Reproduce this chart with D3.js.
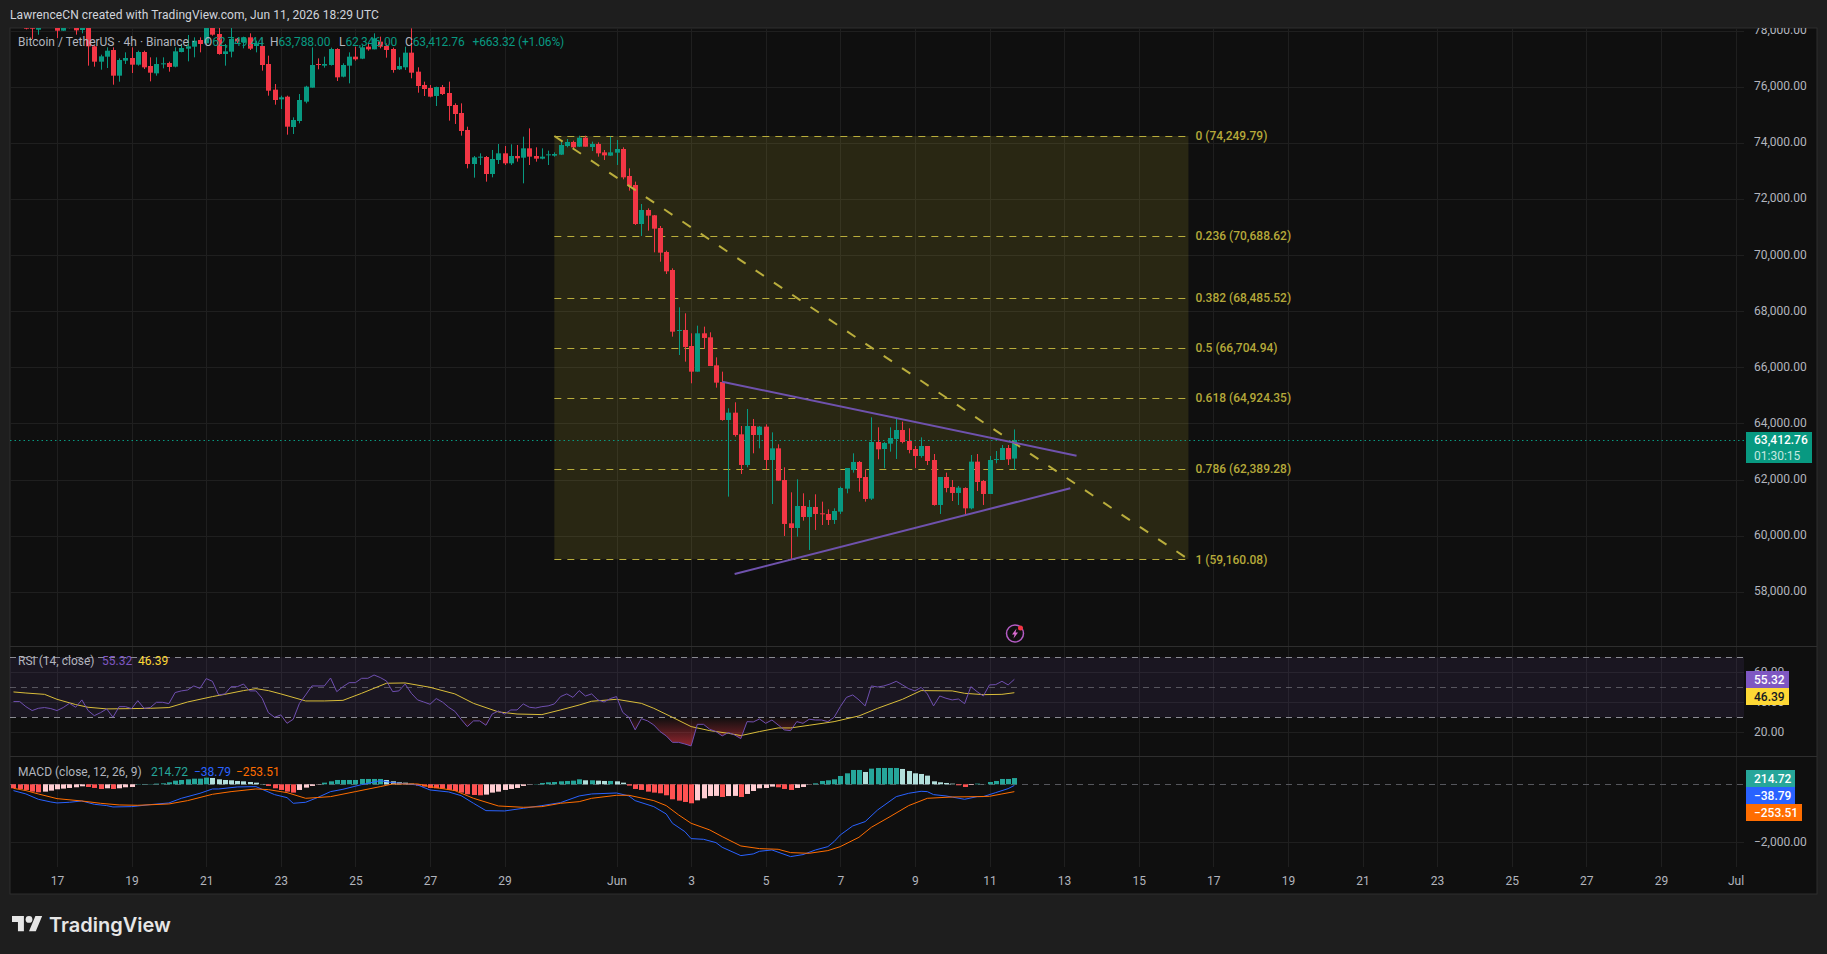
<!DOCTYPE html>
<html>
<head>
<meta charset="utf-8">
<title>BTC/USDT 4h</title>
<script src="https://cdn.jsdelivr.net/npm/d3@7/dist/d3.min.js"></script>
<style>
  html, body { margin: 0; padding: 0; background: #1e1e1e; overflow: hidden; }
  svg { display: block; font-family: Roboto, sans-serif; }
  text { font-size: 12px; }
</style>
</head>
<body>
<svg id="chart" width="1827" height="954"></svg>
<script>
// 4h candles: first bar opens 15 May 2026 20:00 UTC, last bar 11 Jun 16:00 UTC
const barStart = Date.UTC(2026, 4, 15, 20);
const barHours = 4;

const opens = [78400,78500,78350,78120,78040,78200,78400,78300,78004,78250,78150,78028,78250,77446,76899,77077,77315,76400,76935,77030,76792,77244,76745,76483,76816,76852,76721,77244,77363,77434,77672,77553,78200,77886,77173,77256,77719,77589,77767,77458,77458,76816,75901,75556,75651,74570,74784,75474,75973,76816,76757,76781,77351,76365,76757,77078,77007,77434,77339,77613,77458,77351,76626,76698,77221,76543,76068,75961,75676,75997,75783,75355,75070,74464,73251,73477,73501,72895,73394,73632,73275,73537,73477,73810,73537,73442,73560,73549,73584,73893,74036,73869,74190,73857,73964,73667,73549,73655,73786,72824,72503,71112,71612,71422,70970,70114,69473,67298,67334,66763,65848,67215,67072,66074,65480,64125,64386,63614,62521,63911,63590,63887,62699,63115,61986,60441,60275,61059,60667,61024,60798,60774,60560,60857,61677,62343,62628,62093,61321,63341,63091,63281,63448,63768,63376,63091,62842,63198,62699,61095,62093,61737,61523,61701,60976,62640,61950,61487,62711,62699,63127,62749.44];
const highs = [78700,78800,78600,78400,78400,78600,78700,78500,78450,78500,78350,78400,78400,77500,77150,77410,77410,77018,77232,77410,77291,77291,77054,77054,77054,76899,77410,77529,77850,77767,77767,78400,78350,78147,77529,78100,77743,77790,77910,77648,77767,77113,76103,75687,75687,74915,75746,76040,77411,77018,77078,77400,77380,76840,77232,77434,77470,77553,77910,77791,77553,77400,77054,77434,78088,76698,76187,76068,76009,76068,76187,75414,75414,74582,73537,73632,73537,73751,73965,73893,73953,73929,74226,74523,73846,73810,73727,73667,74048,74143,74083,74262,74262,74048,74024,73751,74226,74107,73846,73097,72622,71825,71671,71433,71041,70162,69532,68142,67928,67215,67488,67453,67251,66359,65848,64541,64755,63911,64517,64161,63911,63970,63685,63258,62438,61546,62010,61511,61273,61475,61214,60940,60976,61748,62414,62937,62663,62366,64220,63864,63341,63864,64161,64066,63828,63198,63507,63198,62913,62093,62248,61986,61772,61725,62877,62913,61986,62842,63020,63234,63234,63788];
const lows = [78200,78250,78050,77707,77860,78150,78200,77743,78000,78090,77862,77909,76757,76721,76614,76673,76079,76186,76816,76495,76757,76638,76198,76400,76661,76543,76697,77232,76911,77054,77232,77505,77826,77149,76757,77054,77529,77375,77315,77232,76578,75687,75366,75212,74297,74321,74701,75414,75973,76626,76686,76760,76210,76341,76127,76935,76990,77292,77339,77375,77042,76507,76603,76603,76305,75794,75676,75628,75319,75711,74796,74678,74262,73097,72764,73216,72622,72776,73251,73216,73216,73335,72562,73216,73335,73418,73216,73513,73572,73846,73810,73857,73869,73715,73513,73394,73537,73216,72705,72301,71077,70685,70875,70102,69770,69330,67096,66442,66205,65433,65848,66656,66050,65278,64100,61392,63531,62200,62438,62937,63115,62366,61131,61962,59990,59158,59966,60536,59491,60204,60382,60382,60418,60774,61511,62248,61570,61214,61273,62723,62402,62996,62735,63293,62937,62414,62782,62521,61071,60774,61546,61237,61095,60762,60940,61594,61095,61487,62580,62699,62521,62346];
const closes = [78500,78350,78075,78075,78200,78400,78300,78004,78250,78150,78016,78250,77446,76899,77089,77291,76400,76959,77030,76792,77244,76697,76507,76816,76840,76709,77268,77386,77446,77648,77529,78200,77862,77173,77268,77707,77624,77767,77363,77529,76780,75865,75533,75628,74582,74820,75533,76008,76781,76781,76816,77351,76341,76781,77078,76983,77411,77339,77731,77434,77316,76603,76745,77221,76507,76032,75925,75652,75997,75747,75319,75034,74428,73251,73489,73513,72895,73430,73632,73275,73537,73454,73810,73513,73442,73513,73596,73608,73929,74036,73846,74190,73869,73964,73632,73560,73667,73786,72776,72467,71112,71612,71410,70946,70091,69425,67274,67334,66728,65848,67215,67049,66050,65456,64125,64386,63590,62521,63911,63590,63887,62699,63115,61962,60418,60275,61059,60667,61024,60774,60774,60560,60881,61701,62414,62628,62057,61309,63341,63079,63305,63483,63768,63341,63056,62842,63198,62663,61095,62093,61701,61523,61713,60976,62640,61915,61487,62699,62735,63127,62723,63412.76];

// RSI(14) per bar
const rsi = [40.5,40.5,37.1,34.5,36.0,36.5,35.8,34.5,36.5,39.3,36.7,41.6,34.5,31.1,33.1,35.6,30.0,37.1,37.1,35.8,41.1,36.0,36.5,40.0,40.0,39.1,46.5,47.6,48.2,50.9,49.3,55.8,54.0,44.9,45.6,50.4,50.4,52.2,47.6,47.6,42.7,33.1,30.0,31.6,26.0,28.7,39.3,44.9,50.9,50.9,50.9,56.2,47.1,50.4,53.1,53.1,56.0,56.0,58.2,56.5,54.2,47.1,47.6,52.2,46.0,41.6,40.2,38.7,42.5,40.2,36.7,34.0,28.7,23.8,27.6,27.6,24.7,32.2,34.2,32.2,34.9,34.9,38.9,36.7,36.2,37.1,37.6,38.9,43.8,45.6,43.3,47.8,44.2,45.6,41.6,40.2,42.5,43.8,33.3,30.0,21.6,29.1,27.6,24.9,20.5,17.6,13.3,13.3,12.2,10.9,25.3,25.3,22.0,20.5,17.6,19.8,18.2,15.8,27.1,26.9,28.9,26.0,28.2,24.9,21.6,21.1,27.1,26.0,28.7,28.2,28.2,27.1,30.0,37.1,43.3,44.9,41.6,37.6,50.9,50.2,50.9,52.2,54.0,51.6,49.1,47.6,50.0,45.6,37.6,44.2,42.7,41.6,42.2,39.1,50.4,47.1,44.2,51.6,51.8,54.0,51.6,55.32];

// RSI moving average, read at these bar numbers
const rsiMaBars = [0,2,5,7,10,12,15,19,22,25,28,32,34,37,39,41,43,47,50,53,56,60,63,67,71,74,78,81,85,88,91,93,97,101,103,106,109,112,115,117,120,123,125,128,132,136,139,143,146,151,153,156,159,161];
const rsiMa = [46.9,46.2,45.3,42.0,38.5,36.7,35.6,35.8,36.0,36.5,40.2,43.8,45.3,47.8,49.1,47.8,45.6,40.9,40.9,41.3,46.0,52.7,52.9,50.0,45.6,39.3,33.6,32.2,31.8,34.9,38.2,40.7,42.0,39.3,36.0,30.0,23.8,21.1,19.3,17.8,20.5,22.9,22.9,24.7,27.1,30.9,36.0,42.0,47.8,47.6,46.0,45.1,45.3,46.39];

// MACD histogram per bar
const hist = [-138,-161,-195,-253,-276,-253,-218,-172,-149,-126,-103,-69,-92,-126,-161,-138,-161,-138,-103,-92,11,11,11,23,34,69,126,149,172,195,195,230,218,172,149,138,115,103,80,57,11,-57,-138,-195,-253,-287,-195,-115,-57,-11,57,103,149,149,149,149,184,184,184,184,149,103,69,57,23,-46,-80,-126,-138,-149,-195,-230,-287,-345,-368,-379,-356,-287,-253,-195,-161,-126,-57,-5,11,46,69,80,103,115,126,172,138,138,126,115,115,103,57,-46,-161,-195,-253,-287,-310,-379,-517,-563,-609,-655,-552,-483,-405,-400,-437,-405,-400,-437,-333,-230,-138,-126,-80,-103,-161,-195,-126,-92,-11,34,115,138,172,287,379,494,494,425,540,563,563,563,563,529,460,379,356,299,103,69,46,23,-34,-92,-23,23,5,80,115,184,184,214.72];

// MACD line and signal line, read at these bar numbers
const macdBars = [0,2,4,6,7,9,11,13,15,16,19,22,25,27,30,32,33,36,39,40,42,44,45,47,49,51,53,56,59,61,65,67,70,72,74,76,79,82,85,88,91,93,97,99,100,103,105,106,108,109,111,113,114,117,119,120,122,125,127,129,131,132,133,135,137,139,142,144,146,147,148,150,153,155,156,158,160,161];
const macd = [-218,-333,-517,-609,-643,-620,-575,-689,-735,-781,-770,-701,-643,-483,-310,-161,-161,-92,-80,-172,-356,-460,-655,-620,-448,-253,-172,-11,126,57,-23,-195,-264,-391,-655,-908,-919,-827,-735,-632,-402,-333,-299,-402,-563,-770,-1023,-1344,-1632,-1873,-1896,-2011,-2172,-2459,-2401,-2310,-2264,-2493,-2424,-2264,-2149,-1976,-1746,-1436,-1287,-885,-425,-310,-241,-253,-356,-402,-517,-425,-425,-287,-149,-38.79];
const signalBars = [0,2,4,7,11,14,17,20,25,28,32,35,39,41,44,47,51,55,59,61,65,67,71,74,78,82,85,88,91,93,97,99,103,105,107,109,112,114,117,120,123,125,128,131,133,136,138,141,144,147,151,155,157,159,161];
const signal = [-138,-218,-333,-494,-575,-655,-712,-724,-678,-563,-345,-253,-161,-184,-287,-483,-425,-253,-80,11,11,-80,-218,-483,-747,-793,-770,-655,-598,-483,-379,-379,-563,-735,-1057,-1344,-1574,-1804,-2126,-2218,-2241,-2356,-2379,-2287,-2149,-1827,-1482,-1115,-735,-483,-437,-425,-414,-333,-253.51];

// Price scale ticks, RSI levels and time axis labels
const priceTicks = [78000,76000,74000,72000,70000,68000,66000,64000,62000,60000,58000];
const rsiTicks = [60,40,20];
const rsiLevels = [70,50,30];
const macdTicks = [-2000];
const timeDays = [[4,17],[4,19],[4,21],[4,23],[4,25],[4,27],[4,29],[5,1],[5,3],[5,5],[5,7],[5,9],[5,11],[5,13],[5,15],[5,17],[5,19],[5,21],[5,23],[5,25],[5,27],[5,29],[6,1]];
const timeLabels = ["17","19","21","23","25","27","29","Jun","3","5","7","9","11","13","15","17","19","21","23","25","27","29","Jul"];

// Fibonacci retracement levels
const fibRatios = ["0","0.236","0.382","0.5","0.618","0.786","1"];
const fibPrices = [74249.79,70688.62,68485.52,66704.94,64924.35,62389.28,59160.08];
const fibBars = [87,189];

// Triangle trend lines, as [bar number, price] ends
const upperLine = [[114,65490],[171,62852]];
const lowerLine = [[116,58635],[170,61690]];

const lastPrice = 63412.76;
const lastLabels = ["63,412.76","01:30:15"];
const rsiValue = 55.32, rsiMaValue = 46.39;
const histValue = 214.72, macdValue = -38.79, signalValue = -253.51;

const UP = "#089981", DOWN = "#f23645";
const GRID = "#1f1f1f";
const TEXT = "#b2b5be";

const svg = d3.select("#chart");
const fmt = d3.format(",.2f");
const minus = s => s.replace("-", "\u2212");
const plotLeft = 10, plotRight = 1744, frameRight = 1817, plotTop = 28, plotBottom = 894;
const paneRsiTop = 646, paneMacdTop = 756, timeTop = 867;

const barTime = i => new Date(barStart + i * barHours * 3600e3);
const x = d3.scaleUtc().domain([new Date(Date.UTC(2026,4,17)), new Date(Date.UTC(2026,6,1))]).range([57, 1735.5]);
const bx = i => x(barTime(i));
const yP = d3.scaleLinear().domain([58000, 78000]).range([591.8, 30.8]);
const yR = d3.scaleLinear().domain([20, 70]).range([732.3, 657.3]);
const yM = d3.scaleLinear().domain([-2000, 0]).range([842.3, 784.3]);

// Frame and pane backgrounds
svg.append("rect").attr("width", 1827).attr("height", 954).attr("fill", "#1e1e1e");
svg.append("rect").attr("x", plotLeft).attr("y", plotTop).attr("width", frameRight - plotLeft).attr("height", plotBottom - plotTop)
  .attr("fill", "#0f0f0f").attr("stroke", "#2e2e2e");

const defs = svg.append("defs");
defs.append("clipPath").attr("id", "clipMain").append("rect").attr("x", plotLeft).attr("y", plotTop).attr("width", plotRight - plotLeft).attr("height", paneRsiTop - plotTop);
defs.append("clipPath").attr("id", "clipPlot").append("rect").attr("x", plotLeft).attr("y", plotTop).attr("width", plotRight - plotLeft).attr("height", timeTop - plotTop);
const grad = defs.append("linearGradient").attr("id", "oversold").attr("gradientUnits", "userSpaceOnUse")
  .attr("x1", 0).attr("x2", 0).attr("y1", yR(30)).attr("y2", yR(10));
grad.append("stop").attr("offset", 0).attr("stop-color", "#f23645").attr("stop-opacity", 0);
grad.append("stop").attr("offset", 1).attr("stop-color", "#f23645").attr("stop-opacity", 0.6);

const hLines = (g, vals, scale, x2) => g.selectAll(null).data(vals).join("line")
  .attr("x1", plotLeft).attr("x2", x2).attr("y1", d => Math.round(scale(d)) + .5).attr("y2", d => Math.round(scale(d)) + .5);

// Grid
const grid = svg.append("g").attr("stroke", GRID).attr("clip-path", "url(#clipPlot)");
grid.selectAll(null).data(timeDays).join("line")
  .attr("x1", d => Math.round(x(new Date(Date.UTC(2026, d[0], d[1])))) + .5)
  .attr("x2", d => Math.round(x(new Date(Date.UTC(2026, d[0], d[1])))) + .5)
  .attr("y1", plotTop).attr("y2", timeTop);
hLines(grid.append("g"), priceTicks, yP, plotRight);
hLines(grid.append("g"), rsiTicks, yR, plotRight);
hLines(grid.append("g"), macdTicks, yM, plotRight);

// Pane separators
svg.append("g").attr("stroke", "#2e2e2e").selectAll(null).data([paneRsiTop, paneMacdTop]).join("line")
  .attr("x1", plotLeft).attr("x2", frameRight).attr("y1", d => d + .5).attr("y2", d => d + .5);

// Main pane
const main = svg.append("g").attr("clip-path", "url(#clipMain)");

// Fibonacci block
const fibX0 = bx(fibBars[0]), fibX1 = bx(fibBars[1]);
main.append("rect").attr("x", fibX0).attr("width", fibX1 - fibX0)
  .attr("y", yP(fibPrices[0])).attr("height", yP(fibPrices[6]) - yP(fibPrices[0]))
  .attr("fill", "#ffeb3b").attr("fill-opacity", 0.11);
main.append("g").attr("stroke", "#b9ad3c").attr("stroke-dasharray", "7,6").selectAll(null).data(fibPrices).join("line")
  .attr("x1", fibX0).attr("x2", fibX1)
  .attr("y1", d => Math.round(yP(d)) + .5).attr("y2", d => Math.round(yP(d)) + .5);

// Last price dotted line
main.append("line").attr("x1", plotLeft).attr("x2", plotRight).attr("y1", Math.round(yP(lastPrice)) + .5).attr("y2", Math.round(yP(lastPrice)) + .5)
  .attr("stroke", UP).attr("stroke-dasharray", "1.5,3");

// Candles
const candles = main.append("g").selectAll("g").data(d3.range(opens.length)).join("g");
candles.append("line")
  .attr("x1", i => Math.round(bx(i)) + .5).attr("x2", i => Math.round(bx(i)) + .5)
  .attr("y1", i => yP(highs[i])).attr("y2", i => yP(lows[i]))
  .attr("stroke", i => closes[i] >= opens[i] ? UP : DOWN);
candles.append("rect")
  .attr("x", i => Math.round(bx(i)) - 2).attr("width", 5)
  .attr("y", i => yP(Math.max(opens[i], closes[i])))
  .attr("height", i => Math.max(1, Math.abs(yP(opens[i]) - yP(closes[i]))))
  .attr("fill", i => closes[i] >= opens[i] ? UP : DOWN);

// Diagonal of the fib drawing and the triangle
main.append("line").attr("x1", fibX0).attr("y1", yP(fibPrices[0])).attr("x2", fibX1).attr("y2", yP(fibPrices[6]))
  .attr("stroke", "#b9ad3c").attr("stroke-width", 2).attr("stroke-dasharray", "10,12");
main.selectAll(null).data([upperLine, lowerLine]).join("line")
  .attr("x1", d => bx(d[0][0])).attr("y1", d => yP(d[0][1]))
  .attr("x2", d => bx(d[1][0])).attr("y2", d => yP(d[1][1]))
  .attr("stroke", "#6f52ad").attr("stroke-width", 2);

// Fib labels
svg.append("g").selectAll(null).data(fibPrices).join("text")
  .attr("x", fibX1 + 7).attr("y", d => yP(d)).attr("dy", "0.36em")
  .attr("fill", "#b5a93a").style("font-weight", 500)
  .text((d, i) => `${fibRatios[i]} (${fmt(d)})`);

// Event marker below the candles
const mark = svg.append("g").attr("transform", "translate(1015,633.5)");
mark.append("circle").attr("r", 8.5).attr("fill", "none").attr("stroke", "#b45cc4").attr("stroke-width", 1.5);
mark.append("path").attr("d", "M1.5,-5 L-3,1 L-0.5,1 L-1.5,5 L3,-1 L0.5,-1 Z").attr("fill", "#d86bd0");
mark.append("circle").attr("cx", 5.5).attr("cy", -5.5).attr("r", 2.5).attr("fill", "#f23645");

// RSI pane
const rsiPane = svg.append("g").attr("clip-path", "url(#clipPlot)");
rsiPane.append("rect").attr("x", plotLeft).attr("width", plotRight - plotLeft).attr("y", yR(70)).attr("height", yR(30) - yR(70))
  .attr("fill", "#7e57c2").attr("fill-opacity", 0.1);
rsiPane.append("g").selectAll(null).data(rsiLevels).join("line")
  .attr("x1", plotLeft).attr("x2", plotRight).attr("y1", d => Math.round(yR(d)) + .5).attr("y2", d => Math.round(yR(d)) + .5)
  .attr("stroke", "#8a8a92").attr("stroke-opacity", d => d === 50 ? 0.55 : 1).attr("stroke-dasharray", "6,5");
rsiPane.append("path")
  .attr("d", d3.area().x((d, i) => bx(i)).y0(yR(30)).y1(d => yR(Math.min(d, 30)))(rsi))
  .attr("fill", "url(#oversold)");
rsiPane.append("path")
  .attr("d", d3.line().x(d => bx(d[0])).y(d => yR(d[1]))(d3.zip(rsiMaBars, rsiMa)))
  .attr("fill", "none").attr("stroke", "#d9bd3a").attr("stroke-width", 1);
rsiPane.append("path")
  .attr("d", d3.line().x((d, i) => bx(i)).y(d => yR(d))(rsi))
  .attr("fill", "none").attr("stroke", "#6f4fb0").attr("stroke-width", 1);

// MACD pane
const macdPane = svg.append("g").attr("clip-path", "url(#clipPlot)");
macdPane.append("line").attr("x1", plotLeft).attr("x2", plotRight).attr("y1", Math.round(yM(0)) + .5).attr("y2", Math.round(yM(0)) + .5)
  .attr("stroke", "#55565c").attr("stroke-dasharray", "6,5");
macdPane.append("g").selectAll("rect").data(hist).join("rect")
  .attr("x", (d, i) => Math.round(bx(i)) - 2).attr("width", 5)
  .attr("y", d => Math.min(yM(d), yM(0)))
  .attr("height", d => Math.abs(yM(d) - yM(0)))
  .attr("fill", (d, i) => {
    const prev = i ? hist[i - 1] : d;
    if (d >= 0) return d >= prev ? "#26a69a" : "#b2dfdb";
    return d <= prev ? "#ff5252" : "#ffcdd2";
  });
macdPane.append("path")
  .attr("d", d3.line().x(d => bx(d[0])).y(d => yM(d[1]))(d3.zip(macdBars, macd)))
  .attr("fill", "none").attr("stroke", "#2962ff").attr("stroke-width", 1);
macdPane.append("path")
  .attr("d", d3.line().x(d => bx(d[0])).y(d => yM(d[1]))(d3.zip(signalBars, signal)))
  .attr("fill", "none").attr("stroke", "#ff6d00").attr("stroke-width", 1);

// Axes
const styleAxis = g => {
  g.select(".domain").remove();
  g.selectAll(".tick line").remove();
  g.selectAll("text").attr("fill", TEXT).style("font-family", "Roboto, sans-serif").style("font-size", "12px");
};
const axisX = 1754;
defs.append("clipPath").attr("id", "clipAxis").append("rect")
  .attr("x", plotRight).attr("y", plotTop).attr("width", frameRight - plotRight).attr("height", timeTop + 40 - plotTop);
const axes = svg.append("g").attr("clip-path", "url(#clipAxis)");
axes.append("g").attr("transform", `translate(${axisX},-1)`)
  .call(d3.axisRight(yP).tickValues(priceTicks).tickSize(0).tickPadding(0).tickFormat(fmt)).call(styleAxis);
axes.append("g").attr("transform", `translate(${axisX},-1)`)
  .call(d3.axisRight(yR).tickValues(rsiTicks).tickSize(0).tickPadding(0).tickFormat(d3.format(".2f"))).call(styleAxis);
axes.append("g").attr("transform", `translate(${axisX},-1)`)
  .call(d3.axisRight(yM).tickValues(macdTicks).tickSize(0).tickPadding(0).tickFormat(d => minus(fmt(d)))).call(styleAxis);
svg.append("g").attr("transform", `translate(0,873)`)
  .call(d3.axisBottom(x).tickValues(timeDays.map(d => new Date(Date.UTC(2026, d[0], d[1])))).tickSize(0).tickPadding(3)
    .tickFormat((d, i) => timeLabels[i])).call(styleAxis);

// Price labels at the right edge
const badge = (y0, y1, w, fill, lines, color) => {
  svg.append("rect").attr("x", 1746).attr("y", y0).attr("width", w).attr("height", y1 - y0).attr("fill", fill);
  lines.forEach((t, i) => svg.append("text").attr("x", 1754)
    .attr("y", y0 + (y1 - y0) * (i + .5) / lines.length).attr("dy", "0.36em")
    .attr("fill", i && lines.length > 1 ? "#c4e8e0" : color).style("font-weight", lines.length > 1 && i ? 400 : 500).text(t));
};
badge(432, 463, 66, UP, lastLabels, "#ffffff");
badge(671, 688, 43, "#7e57c2", [rsiValue.toFixed(2)], "#ffffff");
badge(688, 705, 43, "#fdd835", [rsiMaValue.toFixed(2)], "#131722");
badge(770, 787, 49, "#26a69a", [histValue.toFixed(2)], "#ffffff");
badge(787, 804, 49, "#2962ff", [minus(macdValue.toFixed(2))], "#ffffff");
badge(804, 821, 56, "#ff6d00", [minus(signalValue.toFixed(2))], "#ffffff");

// Header and legends
const label = (xp, y, t, fill, w) => svg.append("text").attr("x", xp).attr("y", y).attr("dy", "0.36em")
  .attr("fill", fill).style("font-weight", w || 400).text(t);
label(10, 15, "LawrenceCN created with TradingView.com, Jun 11, 2026 18:29 UTC", "#d1d4dc").style("letter-spacing", "0.08px");
const LEG = "#b2b5be";
label(18, 42, "Bitcoin / TetherUS \u00b7 4h \u00b7 Binance \u00b7", LEG);
[["O", 204, opens[161]], ["H", 270, highs[161]], ["L", 339, lows[161]], ["C", 405, closes[161]]].forEach(d => {
  const t = svg.append("text").attr("x", d[1]).attr("y", 42).attr("dy", "0.36em").style("letter-spacing", "-0.1px");
  t.append("tspan").attr("fill", LEG).text(d[0]);
  t.append("tspan").attr("fill", UP).text(fmt(d[2]));
});
label(472.5, 42, "+663.32 (+1.06%)", UP).style("letter-spacing", "-0.15px");
label(18, 661, "RSI (14, close)", LEG);
label(102, 661, rsiValue.toFixed(2), "#7e57c2");
label(138, 661, rsiMaValue.toFixed(2), "#fdd835");
label(18, 772, "MACD (close, 12, 26, 9)", LEG);
label(151, 772, histValue.toFixed(2), "#26a69a");
label(194, 772, minus(macdValue.toFixed(2)), "#2962ff");
label(236, 772, minus(signalValue.toFixed(2)), "#ff6d00");

// TradingView wordmark
const logo = svg.append("g").attr("fill", "#e6e6e6");
logo.append("path").attr("transform", "translate(12,912.6) scale(.85)")
  .attr("d", "M14 22H7V11H0V4h14v18zM28 22h-8l7.5-18h8L28 22z");
logo.append("circle").attr("cx", 12 + 20 * .85).attr("cy", 912.6 + 8 * .85).attr("r", 3.4);
logo.append("text").attr("x", 49).attr("y", 932).style("font-family", "Inter, sans-serif")
  .style("font-size", "20px").style("font-weight", 600).attr("fill", "#e6e6e6").text("TradingView");
</script>
</body>
</html>
